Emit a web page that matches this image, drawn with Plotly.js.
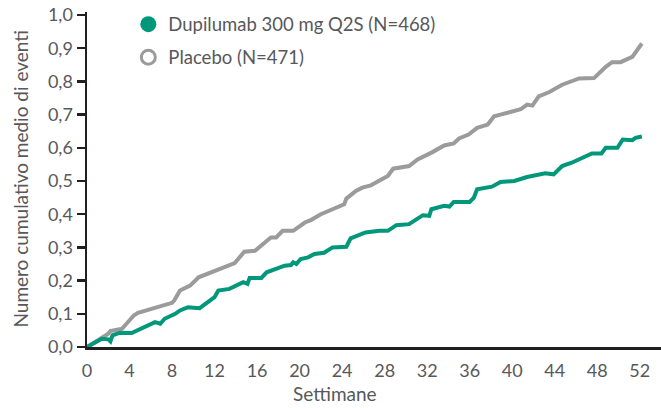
<!DOCTYPE html>
<html>
<head>
<meta charset="utf-8">
<script src="https://cdn.plot.ly/plotly-3.0.1.min.js"></script>
<style>
html,body{margin:0;padding:0;background:#fff;}
#chart{width:661px;height:408px;}
</style>
</head>
<body>
<div id="chart"></div>
<script>
// Series names
const seriesNames = ["Dupilumab 300 mg Q2S (N=468)", "Placebo (N=471)"];

// Dupilumab: weeks and cumulative mean number of events
const dupiWeeks = [0, 1.4, 2.0, 2.2, 2.4, 3.1, 4.2, 6.4, 6.9, 7.3, 8.3, 8.75, 9.5, 10.6, 12.0, 12.35,
  13.4, 14.0, 14.7, 15.1, 15.3, 16.4, 16.9, 18.6, 19.2, 19.4, 19.7, 20.1, 20.8, 21.4, 22.3, 23.1,
  24.4, 24.8, 26.2, 27.5, 28.3, 29.1, 30.3, 31.6, 32.2, 32.4, 33.6, 34.1, 34.5, 36.0, 36.4, 36.7,
  38.1, 38.9, 40.2, 41.4, 43.1, 43.9, 44.7, 45.6, 46.7, 47.5, 48.4, 48.8, 49.9, 50.4, 51.3, 51.6, 52.2];
const dupiValues = [0, 0.025, 0.023, 0.017, 0.035, 0.043, 0.042, 0.075, 0.07, 0.085, 0.1, 0.11, 0.12, 0.117, 0.15, 0.17,
  0.175, 0.183, 0.195, 0.19, 0.208, 0.208, 0.225, 0.245, 0.247, 0.255, 0.25, 0.265, 0.27, 0.28, 0.284, 0.3,
  0.302, 0.327, 0.345, 0.35, 0.35, 0.367, 0.37, 0.397, 0.395, 0.415, 0.425, 0.423, 0.437, 0.437, 0.45, 0.475,
  0.483, 0.497, 0.5, 0.512, 0.523, 0.52, 0.545, 0.555, 0.57, 0.583, 0.583, 0.6, 0.6, 0.625, 0.623, 0.63, 0.634];

// Placebo: weeks and cumulative mean number of events
const placeboWeeks = [0, 2.0, 2.2, 3.3, 4.4, 4.8, 8.0, 8.2, 8.75, 9.7, 10.5, 13.3, 13.9, 14.8, 15.8, 17.3,
  17.8, 18.4, 19.4, 20.5, 21.1, 22.0, 24.2, 24.4, 25.3, 25.9, 26.7, 28.3, 28.8, 30.3, 31.1, 32.5,
  33.6, 34.5, 35.0, 35.9, 36.7, 37.7, 38.3, 38.9, 40.8, 41.4, 41.9, 42.5, 43.5, 44.7, 46.3, 47.7,
  48.8, 49.4, 50.2, 51.3, 52.2];
const placeboValues = [0, 0.04, 0.048, 0.055, 0.095, 0.103, 0.133, 0.14, 0.17, 0.185, 0.21, 0.245, 0.253, 0.287, 0.29, 0.33,
  0.33, 0.35, 0.35, 0.375, 0.383, 0.4, 0.43, 0.447, 0.47, 0.48, 0.487, 0.515, 0.537, 0.545, 0.565, 0.587,
  0.607, 0.613, 0.628, 0.64, 0.66, 0.67, 0.695, 0.7, 0.716, 0.73, 0.727, 0.755, 0.768, 0.79, 0.809, 0.81,
  0.844, 0.858, 0.858, 0.874, 0.914];

// Axis ticks and titles
const xTicks = [0, 4, 8, 12, 16, 20, 24, 28, 32, 36, 40, 44, 48, 52];
const yTicks = [0, 0.1, 0.2, 0.3, 0.4, 0.5, 0.6, 0.7, 0.8, 0.9, 1.0];
const xTitle = "Settimane";
const yTitle = "Numero cumulativo medio di eventi";

const GREEN = "#00977a";
const GREY = "#9b9b9c";
const TEXT = "#58585a";
const AXIS = "#231f20";
const FONT = "Lato, 'Liberation Sans', sans-serif";

const traces = [
  {x: placeboWeeks, y: placeboValues, mode: "lines", line: {color: GREY, width: 4}, showlegend: false, hoverinfo: "skip"},
  {x: dupiWeeks, y: dupiValues, mode: "lines", line: {color: GREEN, width: 4}, showlegend: false, hoverinfo: "skip"},
  {x: [null], y: [null], mode: "markers", name: seriesNames[0], legendgroup: "a",
   marker: {symbol: "circle", size: 16, color: GREEN, line: {width: 0}}},
  {x: [null], y: [null], mode: "markers", name: seriesNames[1], legendgroup: "b",
   marker: {symbol: "circle-open", size: 14, color: GREY, line: {width: 3, color: GREY}}}
];

const layout = {
  width: 661, height: 408,
  margin: {l: 87, r: 0, t: 12, b: 61},
  paper_bgcolor: "#fff", plot_bgcolor: "#fff",
  separators: ",.",
  font: {family: FONT, color: TEXT, size: 18},
  showlegend: true,
  legend: {x: 0.072, y: 1.019, xanchor: "left", yanchor: "top", font: {size: 18.5, color: TEXT},
    traceorder: "grouped", tracegroupgap: 6, itemsizing: "trace", bgcolor: "rgba(0,0,0,0)"},
  xaxis: {range: [0, 54.0], tickvals: xTicks, ticks: "", showgrid: false, zeroline: false, ticklabelstandoff: 6,
    showline: true, linecolor: AXIS, linewidth: 2.5, tickfont: {size: 18, color: TEXT}, fixedrange: true},
  yaxis: {range: [0, 1.009], tickvals: yTicks, tickformat: ".1f", ticks: "outside", ticklen: 8,
    tickwidth: 2.5, tickcolor: AXIS, showgrid: false, zeroline: false,
    showline: true, linecolor: AXIS, linewidth: 2.5, tickfont: {size: 18, color: TEXT}, fixedrange: true},
  annotations: [
    {text: xTitle, xref: "paper", yref: "paper", x: (335 - 87) / 574, y: (347 - 393) / 335, xanchor: "center", yanchor: "middle",
     showarrow: false, font: {size: 19, color: TEXT}},
    {text: yTitle, xref: "paper", yref: "paper", x: (20 - 87) / 574, y: 0.5, xanchor: "center", yanchor: "middle",
     textangle: -90, showarrow: false, font: {size: 19, color: TEXT}}
  ]
};

Plotly.newPlot("chart", traces, layout, {displayModeBar: false, staticPlot: true});
</script>
</body>
</html>
